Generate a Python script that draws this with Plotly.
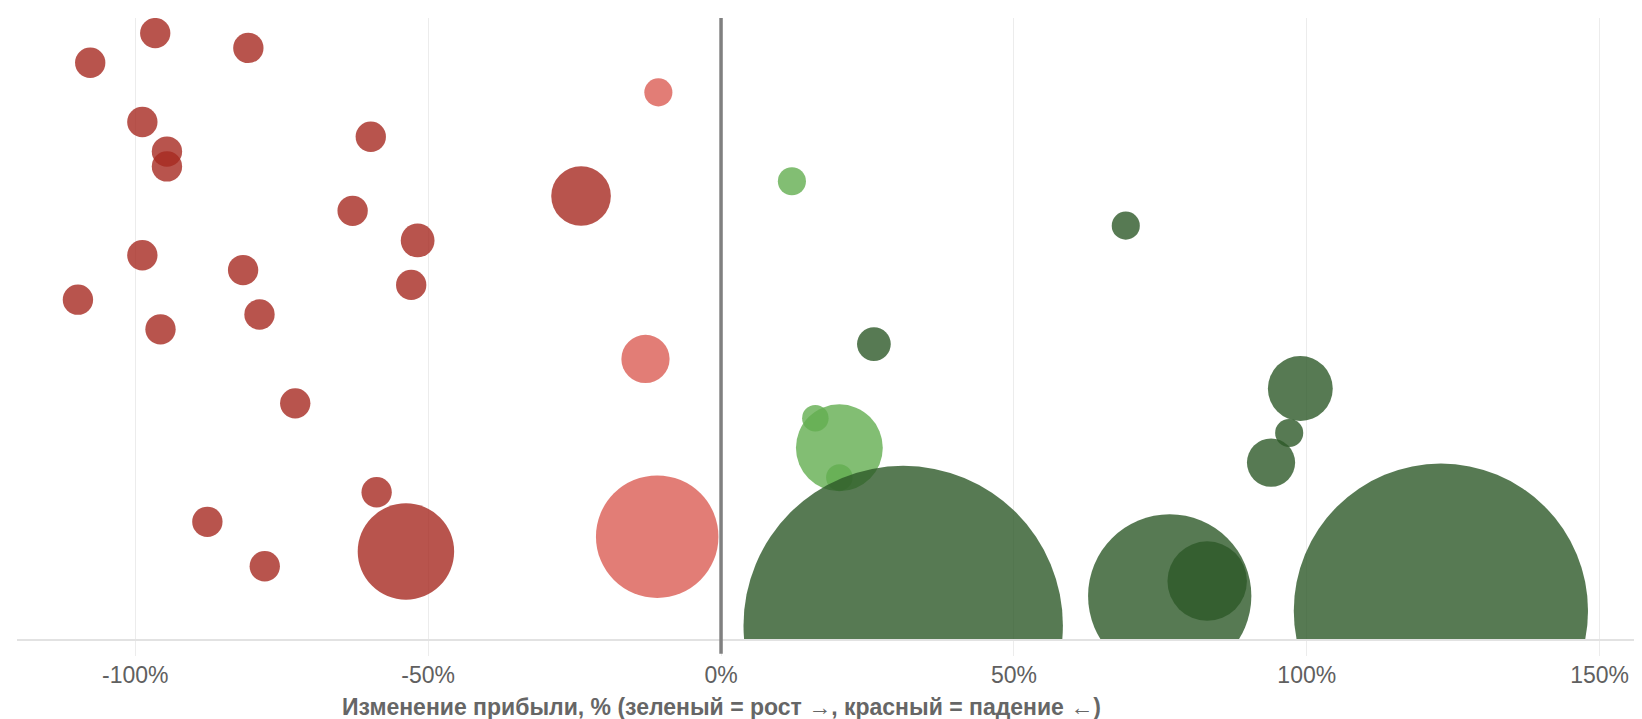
import plotly.graph_objects as go

# Изменение прибыли, % (ось X)
change_pct = [
    -96.6, -80.7, -107.7, -98.8, -94.6, -94.6, -59.8, -62.9, -51.8, -98.8,
    -81.6, -52.9, -109.8, -78.8, -95.7, -72.7, -58.8, -87.7, -77.9, -53.8,
    -23.9, -10.7, -12.9, -10.9, 12.1, 20.2, 16.1, 20.2, 69.1, 26.1,
    98.9, 97.0, 93.9, 31.1, 76.6, 83.0, 122.9,
]
# Позиция компании в списке (ось Y, скрыта)
rank = [
    0, 1, 2, 6, 8, 9, 7, 12, 14, 15,
    16, 17, 18, 19, 20, 25, 31, 33, 36, 35,
    11, 4, 22, 34, 10, 28, 26, 30, 13, 21,
    24, 27, 29, 40, 38, 37, 39,
]
# Размер прибыли (размер пузыря)
profit = [
    21, 21, 21, 21, 21, 21, 21, 21, 26, 21,
    21, 21, 21, 21, 21, 21, 21, 21, 21, 212,
    81, 18, 53, 342, 18, 172, 16, 16, 18, 26,
    96, 18, 53, 2326, 608, 144, 1974,
]

tick_vals = [-100, -50, 0, 50, 100, 150]
tick_text = ["-100%", "-50%", "0%", "50%", "100%", "150%"]


def color_for(v):
    if v <= -20:
        return "rgb(166,41,32)"
    if v < 0:
        return "rgb(219,92,84)"
    if v <= 22:
        return "rgb(99,174,80)"
    return "rgb(45,89,40)"


colors = [color_for(v) for v in change_pct]

fig = go.Figure()
fig.add_trace(go.Scatter(
    x=change_pct,
    y=rank,
    mode="markers",
    marker=dict(
        size=profit,
        sizemode="area",
        sizeref=0.0456,
        color=colors,
        opacity=0.8,
        line=dict(width=0),
    ),
    hoverinfo="x",
    showlegend=False,
))

fig.add_shape(
    type="line", xref="x", yref="paper",
    x0=0, x1=0, y0=-0.0237, y1=1,
    line=dict(color="#808080", width=3.5),
    layer="above",
)

fig.add_annotation(
    text="<b>Изменение прибыли, % (зеленый = рост →, красный = падение ←)</b>",
    xref="x", yref="paper",
    x=0, y=-0.1095,
    xanchor="center", yanchor="middle",
    showarrow=False,
    font=dict(family="Liberation Sans, Arial, sans-serif", size=23, color="#666666"),
)

fig.update_layout(
    width=1642, height=719,
    margin=dict(l=9, r=0, t=10, b=88),
    paper_bgcolor="white",
    plot_bgcolor="white",
    font=dict(family="Liberation Sans, Arial, sans-serif", size=23, color="#606060"),
    xaxis=dict(
        range=[-120.2, 158.6],
        tickvals=tick_vals,
        ticktext=tick_text,
        showgrid=True,
        gridcolor="#ececec",
        gridwidth=1,
        zeroline=False,
        showline=True,
        linecolor="#e2e2e2",
        linewidth=1.5,
        ticks="outside",
        ticklen=15,
        tickwidth=1,
        tickcolor="#ececec",
        ticklabelstandoff=0,
        tickfont=dict(size=23, color="#606060"),
    ),
    yaxis=dict(
        range=[40.91, -1.02],
        showgrid=False,
        zeroline=False,
        showline=False,
        showticklabels=False,
        ticks="",
    ),
)

fig.write_html("out.html")
